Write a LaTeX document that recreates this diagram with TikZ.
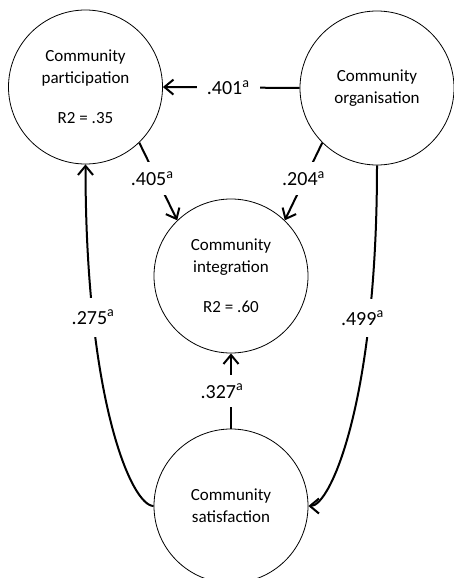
\documentclass[tikz,border=0pt]{standalone}
\usepackage{fontspec}
\setmainfont{Carlito}
\usetikzlibrary{arrows.meta}
\begin{document}
\begin{tikzpicture}[x=1pt,y=-1pt,
  var/.style={circle,draw,line width=0.8pt,minimum size=154pt,inner sep=0pt,align=center,font=\fontsize{17}{22}\selectfont},
  conn/.style={line width=2pt,-{Straight Barb[length=9pt,width=15pt]}},
  plain/.style={line width=2pt},
  lab/.style={fill=white,inner xsep=10pt,inner ysep=9pt,font=\fontsize{20}{24}\selectfont}
]
\useasboundingbox (0,0) rectangle (454,578);
\node[var] (part) at (85.5,87) {Community\\participation\\[18pt]R2 = .35};
\node[var] (org) at (377,88) {Community\\organisation};
\node[var] (integ) at (231,276) {Community\\integration\\[18pt]R2 = .60};
\node[var] (sat) at (231,506) {Community\\satisfaction};

\draw[conn] (org.west) -- node[lab,xshift=-3pt]{.401\textsuperscript{a}} (part.east);
\draw[conn] (part.-46) -- node[lab,xshift=-6pt,yshift=3pt]{.405\textsuperscript{a}} (integ.134);
\draw[conn] (org.-135.5) -- node[lab,yshift=3pt]{.204\textsuperscript{a}} (integ.46);
\draw[conn] (sat.north) -- node[lab,xshift=-9pt]{.327\textsuperscript{a}} (integ.south);
\draw[conn] (org.south) .. controls +(0,236) and +(22,0) .. (sat.east)
  node[lab,pos=0.25,xshift=-7pt,inner ysep=12pt]{.499\textsuperscript{a}};
\draw[conn] (sat.west) .. controls +(-22,0) and +(0,236) .. (part.south)
  node[lab,pos=0.75,inner ysep=12pt]{.275\textsuperscript{a}};
\end{tikzpicture}
\end{document}
